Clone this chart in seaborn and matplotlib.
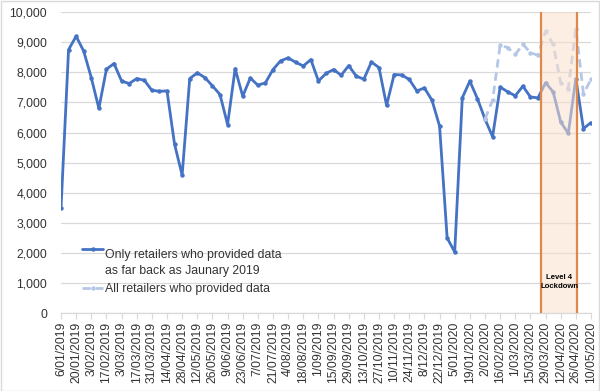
import numpy as np
import pandas as pd
import matplotlib
matplotlib.use("Agg")
import matplotlib.pyplot as plt
import matplotlib.patches as mpatches
import seaborn as sns
from matplotlib.ticker import FuncFormatter
from matplotlib.legend_handler import HandlerLine2D

# ---------------- data ----------------
first_week = "2019-01-06"
only_jan2019 = [3480, 8750, 9195, 8700, 7820, 6800, 8100, 8290, 7710, 7625,
                7790, 7735, 7400, 7370, 7380, 5610, 4585, 7790, 7980, 7825,
                7550, 7260, 6265, 8120, 7205, 7810, 7570, 7650, 8090, 8380,
                8475, 8330, 8210, 8420, 7710, 7960, 8090, 7900, 8220, 7870,
                7770, 8340, 8155, 6900, 7925, 7910, 7760, 7380, 7480, 7070,
                6215, 2500, 2035, 7155, 7705, 7125, 6445, 5860, 7510, 7350,
                7220, 7540, 7180, 7150, 7650, 7350, 6350, 5970, 7790, 6130, 6330]
all_start_week = "2020-02-02"
all_retailers = [6445, 7070, 8900, 8820, 8590, 8930, 8650, 8560, 9360, 8930,
                 7650, 7460, 9450, 7290, 7760]
tick_labels = ["6/01/2019", "20/01/2019", "3/02/2019", "17/02/2019", "3/03/2019",
               "17/03/2019", "31/03/2019", "14/04/2019", "28/04/2019", "12/05/2019",
               "26/05/2019", "9/06/2019", "23/06/2019", "7/07/2019", "21/07/2019",
               "4/08/2019", "18/08/2019", "1/09/2019", "15/09/2019", "29/09/2019",
               "13/10/2019", "27/10/2019", "10/11/2019", "24/11/2019", "8/12/2019",
               "22/12/2019", "5/01/2020", "19/01/2020", "2/02/2020", "16/02/2020",
               "1/03/2020", "15/03/2020", "29/03/2020", "12/04/2020", "26/04/2020",
               "10/05/2020"]
lockdown_start = "2020-03-25"
lockdown_end = "2020-04-27"
label_only = "Only retailers who provided data\nas far back as Jaunary 2019"
label_all = "All retailers who provided data"
lockdown_text = "Level 4\nLockdown"

# ---------------- frames ----------------
dates = pd.date_range(first_week, periods=len(only_jan2019), freq="7D")
df_only = pd.DataFrame({"week": dates, "value": only_jan2019})
dates_all = pd.date_range(all_start_week, periods=len(all_retailers), freq="7D")
df_all = pd.DataFrame({"week": dates_all, "value": all_retailers})

sns.set_theme(style="white")
plt.rcParams["font.family"] = ["Liberation Sans", "DejaVu Sans"]

fig = plt.figure(figsize=(6.0, 3.91), dpi=100)
ax = fig.add_axes([61/600, 1-313.3/391, 530/600, (313.3-12)/391])

blue = "#4472C4"
light = "#B4C7E7"
txt = "#333333"

sns.lineplot(data=df_only, x="week", y="value", ax=ax, color=blue, linewidth=2.0,
             marker="o", markersize=3.2, markeredgewidth=0, label=label_only, zorder=3)
sns.lineplot(data=df_all, x="week", y="value", ax=ax, color=light, linewidth=2.0,
             marker="o", markersize=3.2, markeredgewidth=0, label=label_all, zorder=4)
ax.lines[1].set_dashes((3, 1.8))

# lockdown band
ls, le = pd.Timestamp(lockdown_start), pd.Timestamp(lockdown_end)
ax.axvspan(ls, le, facecolor="#FBE0CD", alpha=0.55, zorder=5, lw=0)
ax.axvline(ls, color="#E0884A", lw=1.6, zorder=6)
ax.axvline(le, color="#E0884A", lw=1.6, zorder=6)
ax.text(ls + (le - ls) / 2, 1030, lockdown_text, ha="center", va="center",
        fontsize=5.6, fontweight="bold", color="black", zorder=7, linespacing=1.4)

# axes
ax.set_xlim(dates[0], dates[-1])
ax.set_ylim(0, 10000)
ax.set_yticks(np.arange(0, 10001, 1000))
ax.yaxis.set_major_formatter(FuncFormatter(lambda v, p: f"{int(v):,}"))
ax.set_xticks(dates[::2])
ax.set_xticklabels(tick_labels, rotation=90, fontsize=8.8, color=txt)
ax.tick_params(axis="y", length=0, pad=10, labelsize=8.8, labelcolor=txt)
ax.tick_params(axis="x", length=4, width=0.8, color="#D9D9D9", pad=2, bottom=True)
ax.grid(axis="y", color="#D9D9D9", lw=0.9)
ax.grid(axis="x", visible=False)
for s in ["top", "right", "left"]:
    ax.spines[s].set_visible(False)
ax.spines["bottom"].set_color("#D9D9D9")
ax.spines["bottom"].set_linewidth(0.9)
ax.set_xlabel("")
ax.set_ylabel("")


class TopHandler(HandlerLine2D):
    def __init__(self, dy, **kw):
        super().__init__(**kw)
        self.dy = dy

    def create_artists(self, legend, orig_handle, xdescent, ydescent, width, height,
                       fontsize, trans):
        arts = super().create_artists(legend, orig_handle, xdescent, ydescent, width,
                                      height, fontsize, trans)
        for a in arts:
            a.set_ydata(np.asarray(a.get_ydata()) + self.dy)
        return arts


leg = ax.legend(loc="upper left", bbox_to_anchor=(0.04, 0.212), frameon=False,
                fontsize=8.8, handlelength=1.7, handletextpad=0.2,
                labelspacing=0.45, borderaxespad=0, borderpad=0,
                handler_map={ax.lines[0]: TopHandler(10.5)})
for t in leg.get_texts():
    t.set_color(txt)
    t.set_linespacing(1.45)

# chart border
fig.patches.append(mpatches.Rectangle((0.001, 0.001), 0.997, 0.996, transform=fig.transFigure,
                                      fill=False, edgecolor="#D9D9D9", lw=1))

fig.savefig("out.png", dpi=100)
